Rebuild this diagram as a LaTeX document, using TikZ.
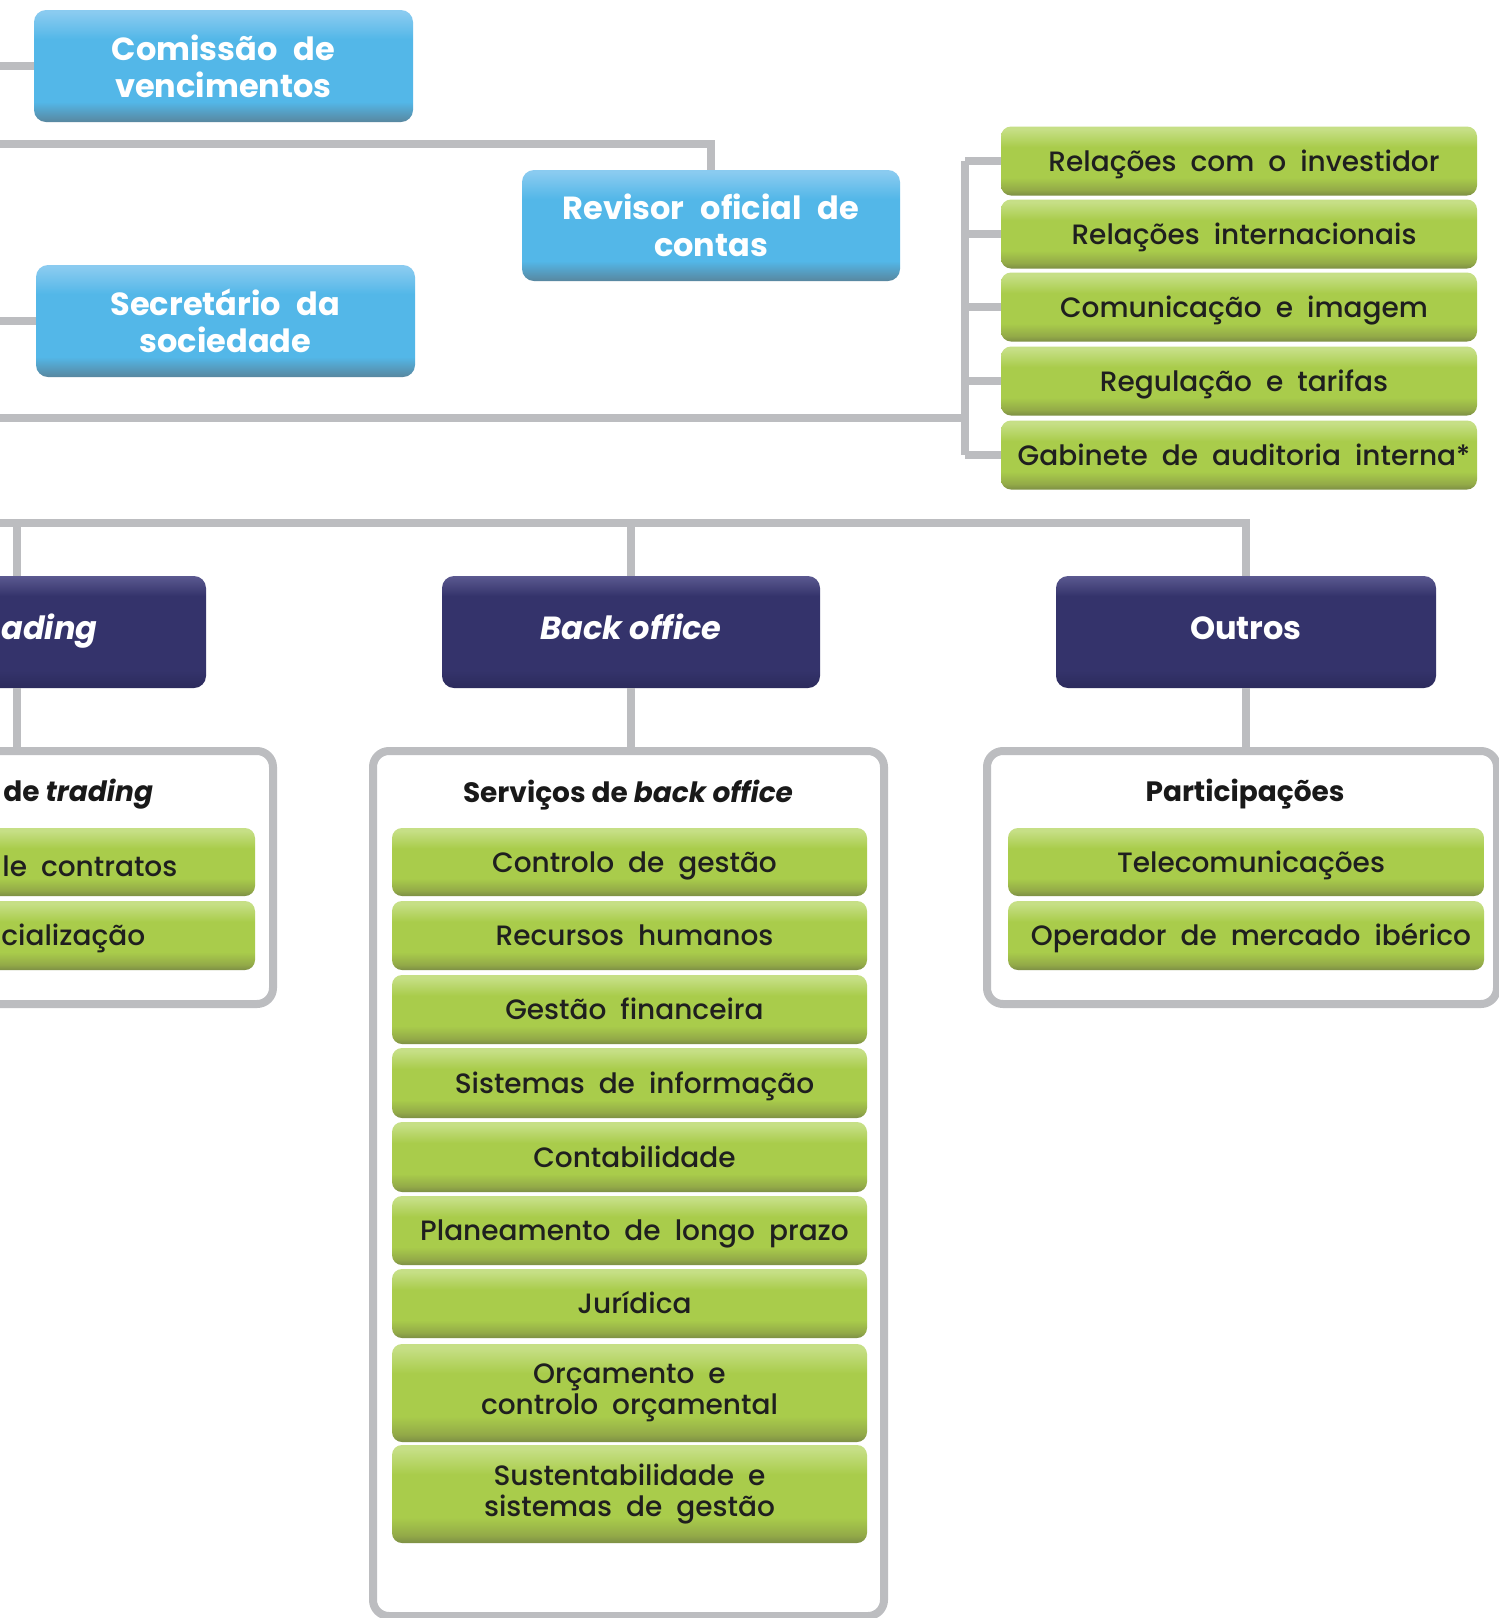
\documentclass[tikz,border=0pt]{standalone}
\usepackage{fontspec}
\setmainfont{Poppins}
\newfontfamily\popmed{Poppins}[UprightFont=* Medium, ItalicFont=* Medium Italic, BoldFont=* SemiBold, BoldItalicFont=* SemiBold Italic]
\definecolor{lineg}{HTML}{BCBDC0}
\definecolor{bluetop}{HTML}{8ACBF0}
\definecolor{bluemain}{HTML}{53B7E8}
\definecolor{bluebot}{HTML}{58879F}
\definecolor{navytop}{HTML}{5B5990}
\definecolor{navymain}{HTML}{34336B}
\definecolor{navybot}{HTML}{2C2B5C}
\definecolor{gtop}{HTML}{C6DF86}
\definecolor{gmain}{HTML}{A9CC4B}
\definecolor{gbot}{HTML}{7D8F45}
\definecolor{gbot2}{HTML}{93AA48}
\pgfdeclareverticalshading{gshade}{100bp}{color(0bp)=(gbot); color(25bp)=(gbot); color(29bp)=(gbot2); color(38bp)=(gmain); color(60bp)=(gmain); color(73bp)=(gtop); color(100bp)=(gtop)}
\pgfdeclareverticalshading{bshade}{100bp}{color(0bp)=(bluebot); color(25bp)=(bluebot); color(34bp)=(bluemain); color(62bp)=(bluemain); color(74bp)=(bluetop); color(100bp)=(bluetop)}
\pgfdeclareverticalshading{nshade}{100bp}{color(0bp)=(navybot); color(25bp)=(navybot); color(33bp)=(navymain); color(66bp)=(navymain); color(75bp)=(navytop); color(100bp)=(navytop)}
\newcommand{\widesp}{\spaceskip=0.5em plus 0.1em\relax}
\tikzset{
  szbox/.style 2 args={minimum width=#1*0.5pt, minimum height=#2*0.5pt},
  conn/.style={draw=lineg, line width=4pt},
  bluebox/.style={rectangle, rounded corners=6pt, shading=bshade, inner sep=0pt, align=center, text=white,
    font=\fontsize{16}{18.5}\selectfont\bfseries},
  navybox/.style={rectangle, rounded corners=6pt, shading=nshade, inner sep=0pt, align=center, text=white,
    font=\fontsize{16}{18}\selectfont\bfseries, text height=11.5pt, text depth=4pt},
  gbox/.style={rectangle, rounded corners=5pt, shading=gshade, inner sep=0pt, align=center, text=black!88,
    font=\fontsize{14}{15.5}\selectfont\popmed},
  oneline/.style={text height=10pt, text depth=0pt, execute at begin node={\kern5pt}},
  cont/.style={rectangle, rounded corners=8pt, draw=lineg, line width=4pt, fill=white, inner sep=0pt},
  head/.style={inner sep=0pt, text=black!90, font=\fontsize{14}{16}\selectfont\bfseries},
  frag/.style={inner sep=0pt, anchor=west},
}
\begin{document}
\begin{tikzpicture}[x=0.5pt,y=-0.5pt]
\clip (0,0) rectangle (1499,1618);
\fill[white] (0,0) rectangle (1499,1618);

% ---- top blue boxes
\node[bluebox, szbox={379}{112}] (com) at (223.5,66) {\widesp Comissão de\\vencimentos};
\node[bluebox, szbox={378}{111}] (rev) at (711,225.5) {\widesp Revisor oficial de\\contas};
\node[bluebox, szbox={379}{112}] (sec) at (225.5,321) {\widesp Secretário da\\sociedade};

\coordinate (lcom) at (0,66);
\coordinate (lsec) at (0,321);
\coordinate (lrev) at (0,144);
\coordinate (lbr) at (0,418);
\draw[conn] (lcom) -- (com.west);
\draw[conn] (lsec) -- (sec.west);
\draw[conn] (lrev) -| (rev.north);

% ---- right green column
\node[gbox, oneline, szbox={476}{69}] (g1) at (1239,161) {\widesp Relações com o investidor};
\node[gbox, oneline, szbox={476}{69}] (g2) at (1239,234) {\widesp Relações internacionais};
\node[gbox, oneline, szbox={476}{69}] (g3) at (1239,307) {\widesp Comunicação e imagem};
\node[gbox, oneline, szbox={476}{69}] (g4) at (1239,381) {\widesp Regulação e tarifas};
\node[gbox, oneline, szbox={476}{69}] (g5) at (1239,455) {\widesp Gabinete de auditoria interna*};
\coordinate (brt) at (965,161);
\coordinate (brb) at (965,455);
\draw[conn] (brt) -- (brb);
\foreach \g in {g1,g2,g3,g4,g5}{\draw[conn] (\g.west) -- (\g.west -| brt);}
\draw[conn] (lbr) -- (lbr -| brt);

% ---- second level
\node[navybox, szbox={378}{112}] (tr) at (17,632) {};
\node[frag, text=white, font=\fontsize{16}{18}\selectfont\bfseries\itshape, text height=11.5pt, text depth=4pt] (trt) at (1,632) {ading};
\node[navybox, szbox={378}{112}, font=\fontsize{16}{18}\selectfont\bfseries\itshape] (bo) at (631,632) {Back office};
\node[navybox, szbox={380}{112}] (out) at (1246,632) {Outros};

\coordinate (hb) at (0,523);
\draw[conn] (hb) -| (out.north);
\draw[conn] (tr.north) -- (tr.north |- hb);
\draw[conn] (bo.north) -- (bo.north |- hb);

% ---- containers
\node[cont, szbox={510}{253}] (trc) at (18,877.5) {};
\node[cont, szbox={511}{865}] (boc) at (628.5,1183.5) {};
\node[cont, szbox={510}{253}] (outc) at (1242,877.5) {};
\draw[conn] (tr.south) -- (tr.south |- trc.north);
\draw[conn] (bo.south) -- (bo.south |- boc.north);
\draw[conn] (out.south) -- (out.south |- outc.north);

% headers
\node[frag, head] (trh) at (3,794) {de \textit{trading}};
\node[head] (boh) at (628,795) {Serviços de \textit{back office}};
\node[head] (outh) at (1245,794) {Participações};

% trading items
\node[gbox, szbox={475}{68}] (t1) at (17.5,862) {};
\node[gbox, szbox={475}{69}] (t2) at (17.5,935.5) {};
\node[frag, font=\fontsize{14}{16}\selectfont\popmed, text=black!88] (t1t) at (2,866) {\widesp le contratos};
\node[frag, font=\fontsize{14}{16}\selectfont\popmed, text=black!88] (t2t) at (1,938) {cialização};

% back office items
\node[gbox, oneline, szbox={475}{68}] (b1) at (629.5,862) {\widesp Controlo de gestão};
\node[gbox, oneline, szbox={475}{69}] (b2) at (629.5,935.5) {\widesp Recursos humanos};
\node[gbox, oneline, szbox={475}{69}] (b3) at (629.5,1009.5) {\widesp Gestão financeira};
\node[gbox, oneline, szbox={475}{70}] (b4) at (629.5,1083) {\widesp Sistemas de informação};
\node[gbox, oneline, szbox={475}{70}] (b5) at (629.5,1157) {Contabilidade};
\node[gbox, oneline, szbox={475}{69}] (b6) at (629.5,1230.5) {\widesp Planeamento de longo prazo};
\node[gbox, oneline, szbox={475}{69}] (b7) at (629.5,1303.5) {Jurídica};
\node[gbox, szbox={475}{98}] (b8) at (629.5,1393) {\widesp Orçamento e\\\widesp controlo orçamental};
\node[gbox, szbox={475}{98}] (b9) at (629.5,1494) {\widesp Sustentabilidade e\\\widesp sistemas de gestão};

% outros items
\node[gbox, oneline, szbox={476}{68}] (o1) at (1246,862) {Telecomunicações};
\node[gbox, oneline, szbox={476}{69}] (o2) at (1246,935.5) {\widesp Operador de mercado ibérico};
\end{tikzpicture}
\end{document}
